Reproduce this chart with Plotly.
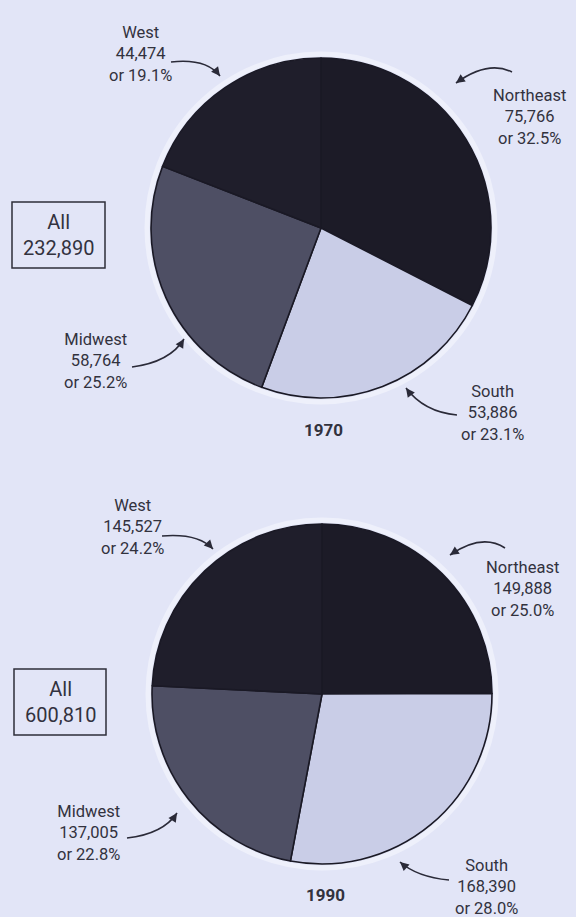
import plotly.graph_objects as go

# ---------------- data ----------------
regions = ["Northeast", "South", "Midwest", "West"]
values_1970 = [75766, 53886, 58764, 44474]
values_1990 = [149888, 168390, 137005, 145527]
pct_1970 = [32.5, 23.1, 25.2, 19.1]
pct_1990 = [25.0, 28.0, 22.8, 24.2]
years = ["1970", "1990"]
totals = [232890, 600810]

W, H = 576, 917
BG = "#e2e5f7"
TXT = "#32323e"
slice_colors = ["#1c1b27", "#c9cde7", "#4e4f64", "#1f1e2b"]
FONT = "Roboto, Liberation Sans, Arial"


def px(x):
    return x / W


def py(y):
    return 1 - y / H


fig = go.Figure()

# pie geometry (pixels): center and radius
pies = [
    dict(cx=321, cy=228, r=170),
    dict(cx=322, cy=694, r=170),
]

for vals, g, yr in zip([values_1970, values_1990], pies, years):
    fig.add_trace(go.Pie(
        labels=regions, values=vals, sort=False, direction="clockwise",
        rotation=0, textinfo="none", hoverinfo="label+value+percent",
        marker=dict(colors=slice_colors, line=dict(color="#1a1925", width=1.6)),
        domain=dict(x=[px(g["cx"] - g["r"]), px(g["cx"] + g["r"])],
                    y=[py(g["cy"] + g["r"]), py(g["cy"] - g["r"])]),
        showlegend=False, name=yr,
    ))

annotations = []
shapes = []

# label positions (pixel centre of the middle line) for each region per year
label_pos = [
    {"Northeast": (529, 117), "South": (492, 413), "Midwest": (95, 361), "West": (140, 54)},
    {"Northeast": (522, 589), "South": (486, 887), "Midwest": (88, 833), "West": (132, 527)},
]
# curved arrows: start, control, end (pixels)
arrows = [
    {"West": ((171, 62), (206, 58), (220, 76)),
     "Northeast": ((512, 72), (488, 60), (456, 83)),
     "Midwest": ((132, 367), (170, 362), (184, 339)),
     "South": ((457, 415), (424, 412), (406, 388))},
    {"West": ((162, 536), (198, 533), (213, 549)),
     "Northeast": ((505, 548), (482, 533), (450, 555)),
     "Midwest": ((127, 838), (163, 834), (177, 813)),
     "South": ((449, 880), (417, 877), (400, 862))},
]
year_pos = [(323, 430), (325, 895)]
box_pos = [(12, 202, 105, 268), (14, 669, 106, 735)]

for k in range(2):
    vals = [values_1970, values_1990][k]
    pcts = [pct_1970, pct_1990][k]
    for name, v, p in zip(regions, vals, pcts):
        x, y = label_pos[k][name]
        annotations.append(dict(
            x=px(x), y=py(y), xref="paper", yref="paper",
            text=f"{name}<br>{v:,}<br>or {p:.1f}%", showarrow=False,
            xanchor="center", yanchor="middle", align="center",
            font=dict(family=FONT, size=16.5, color=TXT)))
        (x0, y0), (cx, cy), (x1, y1) = arrows[k][name]
        shapes.append(dict(
            type="path", xref="paper", yref="paper",
            path=f"M {px(x0)},{py(y0)} Q {px(cx)},{py(cy)} {px(x1)},{py(y1)}",
            line=dict(color="#2a2a38", width=1.6)))
        # arrowhead along the end tangent
        dx, dy = x1 - cx, y1 - cy
        n = (dx * dx + dy * dy) ** 0.5
        annotations.append(dict(
            x=px(x1), y=py(y1), xref="paper", yref="paper", text="",
            showarrow=True, arrowhead=2, arrowsize=1.1, arrowwidth=1.6,
            arrowcolor="#2a2a38", ax=-dx / n * 9, ay=-dy / n * 9,
            axref="pixel", ayref="pixel"))
    yx, yy = year_pos[k]
    annotations.append(dict(
        x=px(yx), y=py(yy), xref="paper", yref="paper", text=f"<b>{years[k]}</b>",
        showarrow=False, xanchor="center", yanchor="middle",
        font=dict(family=FONT, size=17, color=TXT)))
    bx0, by0, bx1, by1 = box_pos[k]
    shapes.append(dict(type="rect", xref="paper", yref="paper",
                       x0=px(bx0), x1=px(bx1), y0=py(by1), y1=py(by0),
                       line=dict(color="#2e2e3a", width=1.5)))
    annotations.append(dict(
        x=px((bx0 + bx1) / 2), y=py((by0 + by1) / 2), xref="paper", yref="paper",
        text=f"All<br>{totals[k]:,}", showarrow=False, xanchor="center",
        yanchor="middle", align="center",
        font=dict(family=FONT, size=20, color=TXT)))
    # light halo around the pie
    g = pies[k]
    shapes.append(dict(type="circle", xref="paper", yref="paper", layer="below",
                       x0=px(g["cx"] - g["r"] - 4), x1=px(g["cx"] + g["r"] + 4),
                       y0=py(g["cy"] + g["r"] + 4), y1=py(g["cy"] - g["r"] - 4),
                       line=dict(color="#eef0fb", width=5), fillcolor="rgba(0,0,0,0)"))

fig.update_layout(
    width=W, height=H, margin=dict(l=0, r=0, t=0, b=0),
    paper_bgcolor=BG, plot_bgcolor=BG,
    annotations=annotations, shapes=shapes, showlegend=False,
)

fig.write_html("out.html",
               config={"displayModeBar": False},
               post_script="document.body.style.margin='0';"
                           "document.body.style.background='" + BG + "';")
